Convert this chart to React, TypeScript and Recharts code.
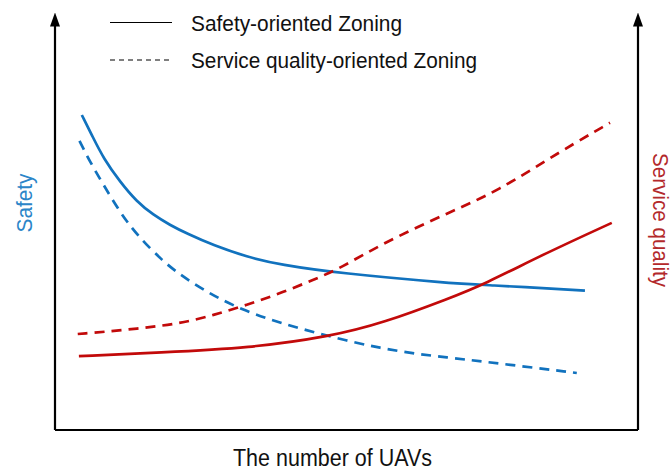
import { LineChart, Line, XAxis, YAxis, Legend } from "recharts";

// x = number of UAVs (relative 0-100), y = relative level (0-100)
const safetySolidX = [4.6, 6.6, 8.3, 11.1, 14.0, 16.9, 19.7, 22.6, 27.2, 32.9, 38.6, 48.9, 67.8, 73.4, 90.9];
const safetySolidY = [76.8, 71.1, 66.3, 60.6, 55.7, 52.4, 50.0, 47.9, 45.0, 42.2, 40.3, 38.2, 35.8, 35.4, 34.0];

const safetyDashedX = [4.2, 6.0, 8.3, 11.1, 14.0, 18.6, 21.4, 24.9, 31.7, 41.5, 56.3, 67.8, 75.8, 89.5];
const safetyDashedY = [70.5, 65.4, 59.8, 53.2, 47.6, 41.0, 38.0, 34.6, 29.3, 24.8, 19.5, 17.6, 16.3, 13.9];

const serviceSolidX = [4.1, 18.0, 33.4, 47.2, 56.3, 67.8, 73.4, 84.3, 95.5];
const serviceSolidY = [18.0, 18.9, 20.0, 22.8, 26.1, 32.2, 35.4, 43.2, 50.5];

const serviceDashedX = [3.9, 12.3, 21.4, 27.2, 32.9, 38.6, 44.3, 48.9, 56.3, 67.8, 75.8, 87.1, 95.2];
const serviceDashedY = [23.4, 24.4, 25.9, 28.0, 30.5, 33.3, 36.6, 39.4, 45.6, 53.2, 58.1, 68.3, 74.9];

const legendLabels = ["Safety-oriented Zoning", "Service quality-oriented Zoning"];
const legendDashes = ["0", "5 4"];
const legendWidths = [211, 286];

const xLabel = "The number of UAVs";
const leftLabel = "Safety";
const rightLabel = "Service quality";

const BLUE = "#1172be";
const RED = "#c20a0a";
const FONT = '"Liberation Sans", "Noto Sans", sans-serif';

const zip = (xs: number[], ys: number[]) => xs.map((x, i) => ({ x, y: ys[i] }));

const safetySolid = zip(safetySolidX, safetySolidY);
const safetyDashed = zip(safetyDashedX, safetyDashedY);
const serviceSolid = zip(serviceSolidX, serviceSolidY);
const serviceDashed = zip(serviceDashedX, serviceDashedY);

function AxisText(props: any) {
  const { viewBox, text, color, rot = 0, shiftX = 0, shiftY = 0, len, size } = props;
  const cx = viewBox.x + viewBox.width / 2 + shiftX;
  const cy = viewBox.y + viewBox.height / 2 + shiftY;
  return (
    <text
      x={cx}
      y={cy}
      transform={rot ? `rotate(${rot} ${cx} ${cy})` : undefined}
      textAnchor="middle"
      dominantBaseline="central"
      fill={color}
      fontFamily={FONT}
      fontSize={size}
      textLength={len}
      lengthAdjust="spacingAndGlyphs"
    >
      {text}
    </text>
  );
}

function LegendBox() {
  return (
    <div style={{ height: 0, overflow: "visible" }}>
      <svg width={400} height={80} style={{ overflow: "visible" }}>
        {legendLabels.map((label, i) => (
          <g key={label}>
            <line
              x1={10}
              x2={72}
              y1={22.5 + i * 37.5}
              y2={22.5 + i * 37.5}
              stroke="#000"
              strokeWidth={1.2}
              strokeDasharray={legendDashes[i]}
            />
            <text
              x={91}
              y={30.5 + i * 37.5}
              fontFamily={FONT}
              fontSize={22}
              fill="#111"
              textLength={legendWidths[i]}
              lengthAdjust="spacingAndGlyphs"
            >
              {label}
            </text>
          </g>
        ))}
      </svg>
    </div>
  );
}

const axisStyle = { stroke: "#000", strokeWidth: 2.2 };
const arrowAxis = { ...axisStyle, markerStart: "url(#axisArrow)" };

export default function App() {
  return (
    <div style={{ position: "absolute", left: 0, top: 0, width: 672, height: 469, background: "#fff" }}>
      <svg width={0} height={0} style={{ position: "absolute" }}>
        <defs>
          <marker
            id="axisArrow"
            viewBox="0 0 14 10"
            markerWidth={14}
            markerHeight={10}
            refX={0.5}
            refY={5}
            markerUnits="userSpaceOnUse"
            orient="auto-start-reverse"
          >
            <path d="M0,0 L14,5 L0,10 z" fill="#000" />
          </marker>
        </defs>
      </svg>
      <LineChart width={672} height={469} margin={{ top: 26, right: 0, bottom: 0, left: 0 }}>
        <XAxis
          type="number"
          dataKey="x"
          domain={[0, 100]}
          tick={false}
          tickLine={false}
          axisLine={axisStyle}
          height={39}
          label={<AxisText text={xLabel} color="#111" size={23} len={199} shiftX={-14} shiftY={8} />}
        />
        <YAxis
          yAxisId="left"
          type="number"
          domain={[0, 98.5]}
          allowDataOverflow
          tick={false}
          tickLine={false}
          width={55}
          axisLine={arrowAxis}
          label={<AxisText text={leftLabel} color="#2b85c8" size={22} len={59} rot={-90} shiftX={-3.5} shiftY={-25} />}
        />
        <YAxis
          yAxisId="right"
          orientation="right"
          type="number"
          domain={[0, 98.5]}
          allowDataOverflow
          tick={false}
          tickLine={false}
          width={34}
          axisLine={arrowAxis}
          label={<AxisText text={rightLabel} color="#b3292b" size={22} len={134} rot={90} shiftX={5} shiftY={-8} />}
        />
        <Legend
          verticalAlign="top"
          align="left"
          content={<LegendBox />}
          wrapperStyle={{ top: 0, left: 100, width: 400, height: 0 }}
        />
        <Line
          yAxisId="left"
          data={safetySolid}
          dataKey="y"
          type="basis"
          stroke={BLUE}
          strokeWidth={2.7}
          dot={false}
          isAnimationActive={false}
        />
        <Line
          yAxisId="left"
          data={safetyDashed}
          dataKey="y"
          type="basis"
          stroke={BLUE}
          strokeWidth={2.7}
          strokeDasharray="10 7"
          dot={false}
          isAnimationActive={false}
        />
        <Line
          yAxisId="right"
          data={serviceSolid}
          dataKey="y"
          type="basis"
          stroke={RED}
          strokeWidth={2.7}
          dot={false}
          isAnimationActive={false}
        />
        <Line
          yAxisId="right"
          data={serviceDashed}
          dataKey="y"
          type="basis"
          stroke={RED}
          strokeWidth={2.7}
          strokeDasharray="10 7"
          dot={false}
          isAnimationActive={false}
        />
      </LineChart>
    </div>
  );
}
